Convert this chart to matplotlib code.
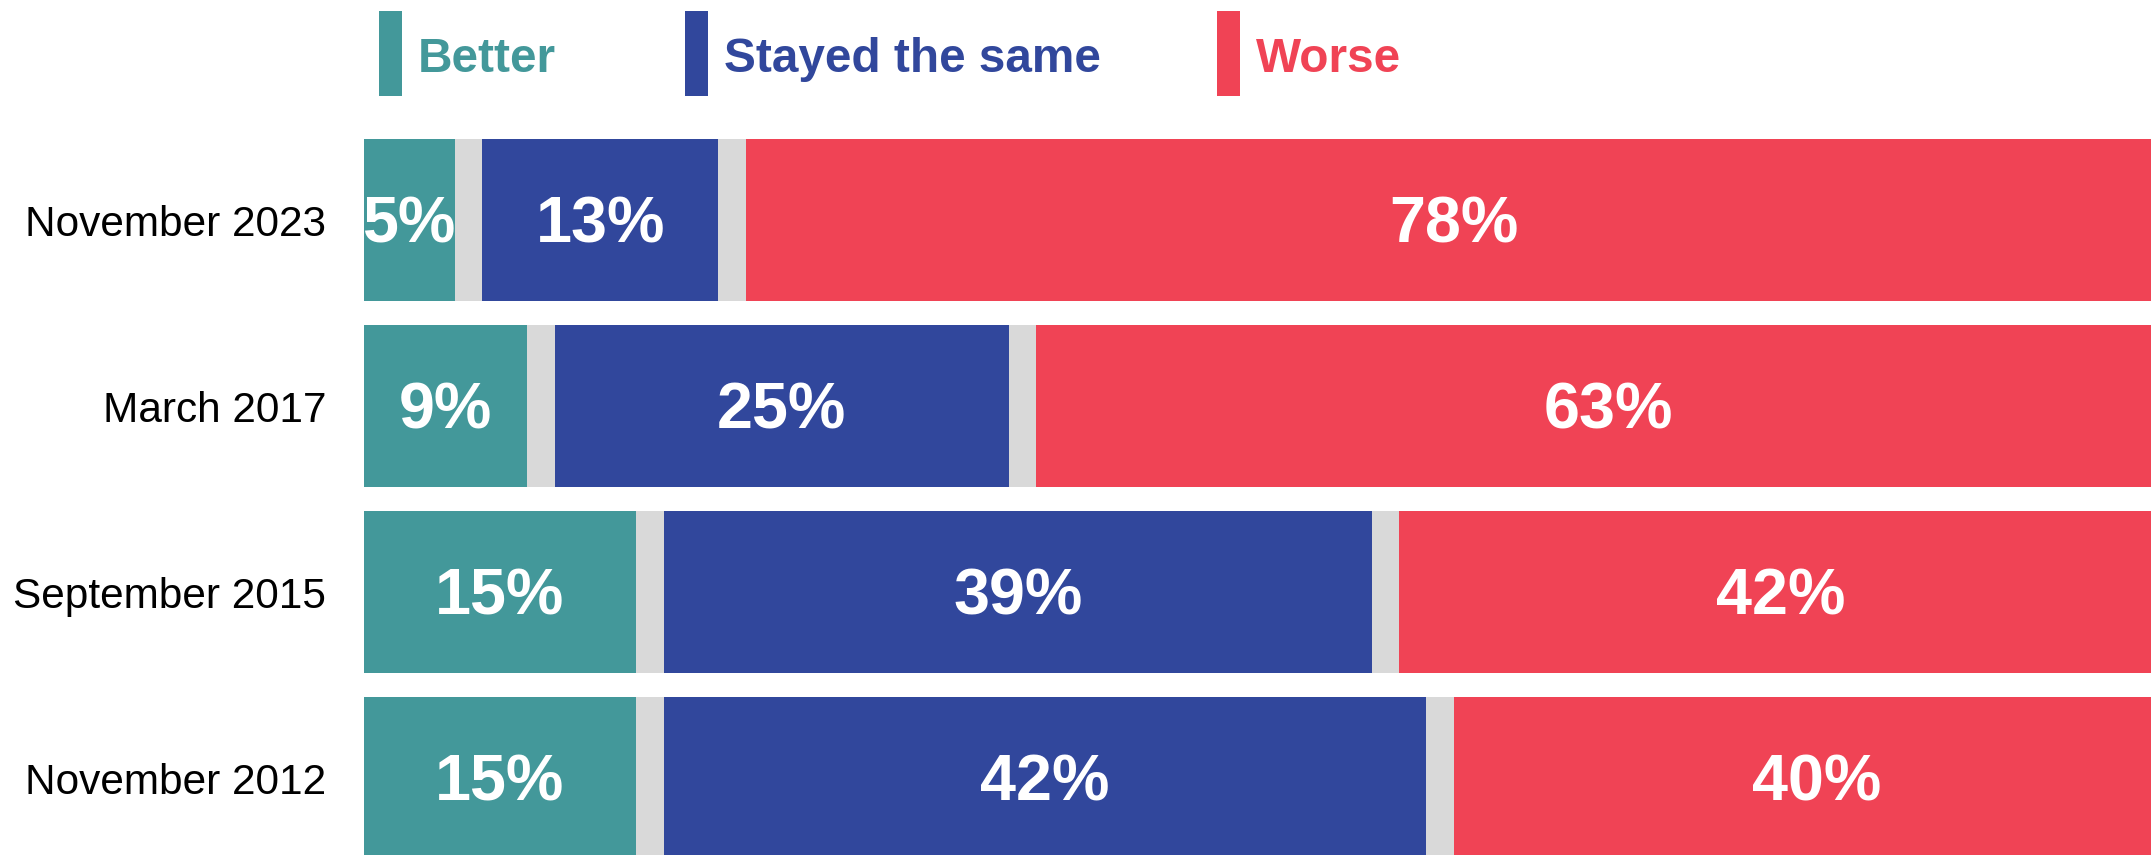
import matplotlib.pyplot as plt
from matplotlib.patches import Rectangle

plt.rcParams['font.family'] = ['Liberation Sans', 'DejaVu Sans']

# data (top row first)
periods = ["November 2023", "March 2017", "September 2015", "November 2012"]
better = [5, 9, 15, 15]
same = [13, 25, 39, 42]
worse = [78, 63, 42, 40]
series_names = ["Better", "Stayed the same", "Worse"]

colors = ["#43989A", "#31479C", "#F04355"]
gray = "#D9D9D9"

W, H = 2151, 855
fig = plt.figure(figsize=(W / 100, H / 100), dpi=100)

left = 363.8 / W
top_px = 139
ax = fig.add_axes([left, 0, 1 - left, (H - top_px) / H])

px_per_pct = 18.16          # bars run past the right edge and get clipped
gap = 27.5 / px_per_pct     # grey separator, in % units
bar_h = 162 / 186

for i, row in enumerate(zip(better, same, worse)):
    x = 0
    for j, (v, c) in enumerate(zip(row, colors)):
        ax.barh(i, v, left=x, height=bar_h, color=c, linewidth=0)
        ax.annotate(f"{v}%", xy=(x + v / 2, i), xytext=(0, -16.5),
                    textcoords="offset points", ha="center", va="baseline",
                    fontsize=46.5, fontweight="bold", color="white",
                    annotation_clip=False)
        x += v
        if j < 2:
            ax.barh(i, gap, left=x, height=bar_h, color=gray, linewidth=0)
            x += gap

ax.set_xlim(0, (W - 363.8) / px_per_pct)
ax.set_ylim((H - 220) / 186, -(220 - top_px) / 186)
ax.set_yticks(range(len(periods)))
ax.set_yticklabels(periods, fontsize=30.5)
ax.set_xticks([])
ax.tick_params(axis="y", length=0, pad=26.9)
for s in ax.spines.values():
    s.set_visible(False)

# legend: colored bar + bold colored text
legend_bars = [379, 685, 1217]
legend_text = [418, 724, 1256]
for name, c, bx, tx in zip(series_names, colors, legend_bars, legend_text):
    fig.patches.append(Rectangle((bx / W, 1 - 96 / H), 23 / W, 85 / H,
                                 transform=fig.transFigure, color=c, linewidth=0))
    fig.text(tx / W, 1 - 72 / H, name, fontsize=34.4, fontweight="bold",
             color=c, va="baseline", ha="left")

plt.savefig("out.png", dpi=100)
